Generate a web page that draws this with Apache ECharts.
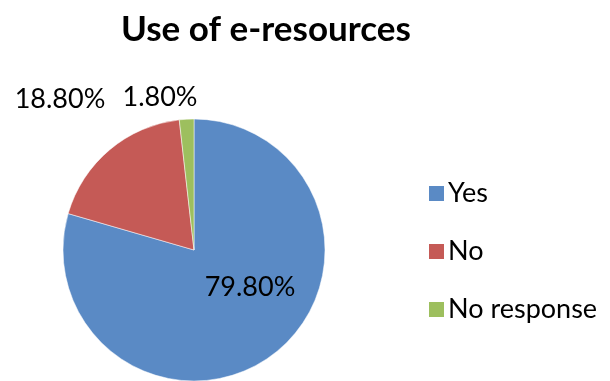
<!DOCTYPE html>
<html><head><meta charset="utf-8">
<script src="https://cdn.jsdelivr.net/npm/echarts@6/dist/echarts.min.js"></script>
<style>html,body{margin:0;padding:0;background:#fff}#c{width:610px;height:381px}</style>
</head><body><div id="c"></div>
<script>
const categories = ['Yes', 'No', 'No response'];
const values = [79.8, 18.8, 1.8];
const valueLabels = ['79.80%', '18.80%', '1.80%'];
const colors = ['#5A8AC5', '#C55A56', '#9DBF5E'];
const labelPos = [[250, 287], [60, 99], [160, 97]];

const chart = echarts.init(document.getElementById('c'), null, {renderer: 'canvas'});
chart.setOption({
  animation: false,
  backgroundColor: '#fff',
  title: {
    text: 'Use of e-resources',
    left: 121, top: 12,
    padding: 0,
    textStyle: {fontFamily: 'Lato', fontWeight: 'bold', fontSize: 35, color: '#000'}
  },
  legend: {
    orient: 'vertical',
    left: 427, top: 180,
    padding: 0,
    icon: 'rect',
    itemWidth: 17, itemHeight: 17,
    itemGap: 31,
    data: categories,
    textStyle: {fontFamily: 'Lato', fontSize: 27, color: '#000', lineHeight: 17, padding: [0,0,0,-2]}
  },
  series: [{
    type: 'pie',
    center: [194, 250],
    radius: 131,
    startAngle: 90,
    clockwise: true,
    silent: true,
    itemStyle: {borderColor: '#fff', borderWidth: 0.5},
    label: {
      show: true,
      overflow: 'none',
      fontFamily: 'Lato', fontSize: 27, color: '#000',
      formatter: p => valueLabels[p.dataIndex]
    },
    labelLine: {show: false},
    labelLayout: p => ({x: labelPos[p.dataIndex][0], y: labelPos[p.dataIndex][1], align: 'center', verticalAlign: 'middle'}),
    data: categories.map((c, i) => ({name: c, value: values[i], itemStyle: {color: colors[i]}}))
  }]
});
</script></body></html>
